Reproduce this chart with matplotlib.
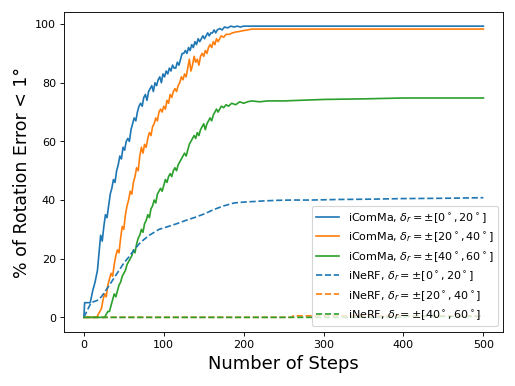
import matplotlib
matplotlib.use("Agg")
from matplotlib import pyplot as plt

# iComMa, delta_r in [0, 20]
icomma_0_20_steps = [0, 1, 8, 11, 14, 17, 19, 21, 23, 25, 27, 29, 31, 33, 35, 37, 39, 41, 43, 45,
                     47, 49, 51, 53, 55, 57, 59, 61, 63, 65, 67, 69, 71, 73, 75, 77, 79, 81, 83, 85,
                     87, 89, 91, 93, 95, 97, 99, 101, 103, 105, 107, 109, 111, 113, 115, 117, 119,
                     121, 123, 125, 127, 129, 131, 133, 135, 137, 139, 141, 143, 145, 147, 149, 151,
                     153, 155, 157, 159, 161, 163, 165, 167, 170, 173, 176, 180, 184, 188, 192, 196,
                     200, 500]
icomma_0_20 = [0, 5, 5, 9, 12, 16, 22, 28, 26, 31, 35, 34, 38, 42, 44, 47, 46, 50, 52, 55,
               54, 58, 57, 60, 61, 60, 64, 66, 68, 67, 70, 72, 73, 72, 75, 76, 74, 77, 78, 79,
               77, 80, 79, 81, 82, 80, 83, 82, 84, 83, 85, 84, 86, 85, 85, 87, 86,
               88, 90, 90, 91, 90, 92, 91, 93, 92, 94, 93, 95, 94, 95, 96, 95,
               96, 97, 96, 97, 97, 98, 97, 98, 98.5, 98, 99, 98.7, 99.3, 99, 99.3, 99,
               99.3, 99.3]

# iComMa, delta_r in [20, 40]
icomma_20_40_steps = [0, 16, 18, 20, 22, 24, 26, 28, 30, 32, 34, 36, 38, 40, 42, 44, 46, 48, 50,
                      52, 54, 56, 58, 60, 62, 64, 66, 68, 70, 72, 74, 76, 78, 80, 82, 84, 86, 88,
                      90, 92, 94, 96, 98, 100, 102, 104, 106, 108, 110, 112, 114, 116, 118, 120,
                      122, 124, 126, 128, 130, 132, 134, 136, 138, 140, 142, 144, 146, 148, 150,
                      152, 154, 156, 158, 160, 162, 164, 166, 168, 170, 172, 175, 178, 182, 186,
                      190, 195, 200, 205, 210, 500]
icomma_20_40 = [0, 0, 1, 2, 3, 6, 8, 7, 11, 13, 15, 14, 18, 21, 23, 22, 27, 31, 30,
                35, 38, 40, 43, 42, 46, 48, 51, 50, 55, 58, 56, 59, 58, 61, 63, 62, 65, 66,
                68, 67, 70, 71, 70, 72, 71, 74, 73, 76, 75, 77, 78, 77, 79, 80,
                82, 81, 83, 82, 85, 88, 84, 86, 89, 87, 88, 86, 89, 90, 89,
                91, 90, 92, 93, 92, 94, 93, 95, 94, 95, 96, 95.5, 96.5, 96.5, 97,
                97.3, 97.5, 97.8, 98, 98.3, 98.3]

# iComMa, delta_r in [40, 60]
icomma_40_60_steps = [0, 26, 28, 30, 32, 34, 36, 38, 40, 42, 44, 46, 48, 50, 52, 54, 56, 58, 60,
                      62, 64, 66, 68, 70, 72, 74, 76, 78, 80, 82, 84, 86, 88, 90, 92, 94, 96, 98,
                      100, 102, 104, 106, 108, 110, 112, 114, 116, 118, 120, 122, 124, 126, 128,
                      130, 132, 134, 136, 138, 140, 142, 144, 146, 148, 150, 152, 154, 156, 158,
                      160, 162, 164, 166, 168, 170, 172, 175, 178, 181, 185, 190, 195, 200, 205,
                      210, 220, 230, 250, 270, 300, 350, 400, 500]
icomma_40_60 = [0, 0, 1, 2, 2, 4, 6, 8, 7, 9, 11, 12, 14, 15, 16, 18, 19, 20, 21,
                23, 22, 25, 27, 28, 30, 29, 32, 33, 35, 34, 37, 38, 40, 39, 42, 43, 44, 43,
                45, 47, 46, 48, 49, 48, 50, 51, 50, 52, 53, 54, 55, 56, 55,
                57, 59, 60, 61, 62, 61, 63, 62, 64, 65, 66, 64, 66, 67, 68,
                67, 69, 70, 71, 70, 71, 72, 71.5, 72.5, 72, 73, 72.5, 73.5, 73, 73.5,
                73.8, 73.5, 73.8, 73.8, 74, 74.3, 74.5, 74.8, 74.8]

# iNeRF baselines
inerf_0_20_steps = [0, 9, 17, 22, 27, 32, 38, 44, 50, 56, 63, 69, 75, 82, 88, 94, 100, 108, 117,
                    127, 138, 150, 163, 175, 188, 200, 213, 225, 242, 260, 284, 320, 360, 400,
                    450, 500]
inerf_0_20 = [0, 5, 5.8, 7, 9, 11, 13.5, 16, 18.5, 20.5, 23, 25, 26.5, 28, 29, 30, 30.5, 31.2, 32,
              33, 34, 35.2, 36.8, 38, 39, 39.3, 39.5, 39.7, 39.9, 40, 40, 40.2, 40.3, 40.5,
              40.6, 40.8]

inerf_20_40_steps = [0, 260, 262, 500]
inerf_20_40 = [0, 0, 0.5, 0.5]

inerf_40_60_steps = [0, 400, 402, 500]
inerf_40_60 = [0, 0, 0.3, 0.3]

labels = [
    r"iComMa, $\delta_r = \pm[0^\circ, 20^\circ]$",
    r"iComMa, $\delta_r = \pm[20^\circ, 40^\circ]$",
    r"iComMa, $\delta_r = \pm[40^\circ, 60^\circ]$",
    r"iNeRF, $\delta_r = \pm[0^\circ, 20^\circ]$",
    r"iNeRF, $\delta_r = \pm[20^\circ, 40^\circ]$",
    r"iNeRF, $\delta_r = \pm[40^\circ, 60^\circ]$",
]

fig, ax = plt.subplots(figsize=(6.4, 4.8), dpi=80.5)
fig.subplots_adjust(left=0.124, right=0.977, top=0.969, bottom=0.14)

ax.plot(icomma_0_20_steps, icomma_0_20, color="C0", label=labels[0])
ax.plot(icomma_20_40_steps, icomma_20_40, color="C1", label=labels[1])
ax.plot(icomma_40_60_steps, icomma_40_60, color="C2", label=labels[2])
ax.plot(inerf_0_20_steps, inerf_0_20, "--", color="C0", label=labels[3])
ax.plot(inerf_20_40_steps, inerf_20_40, "--", color="C1", label=labels[4])
ax.plot(inerf_40_60_steps, inerf_40_60, "--", color="C2", label=labels[5])

ax.set_xlabel("Number of Steps", fontsize=16)
ax.set_ylabel("% of Rotation Error < 1°", fontsize=15.5)
ax.tick_params(labelsize=10)
ax.legend(loc="lower right", fontsize=10)

plt.savefig("out.png")
plt.close()
